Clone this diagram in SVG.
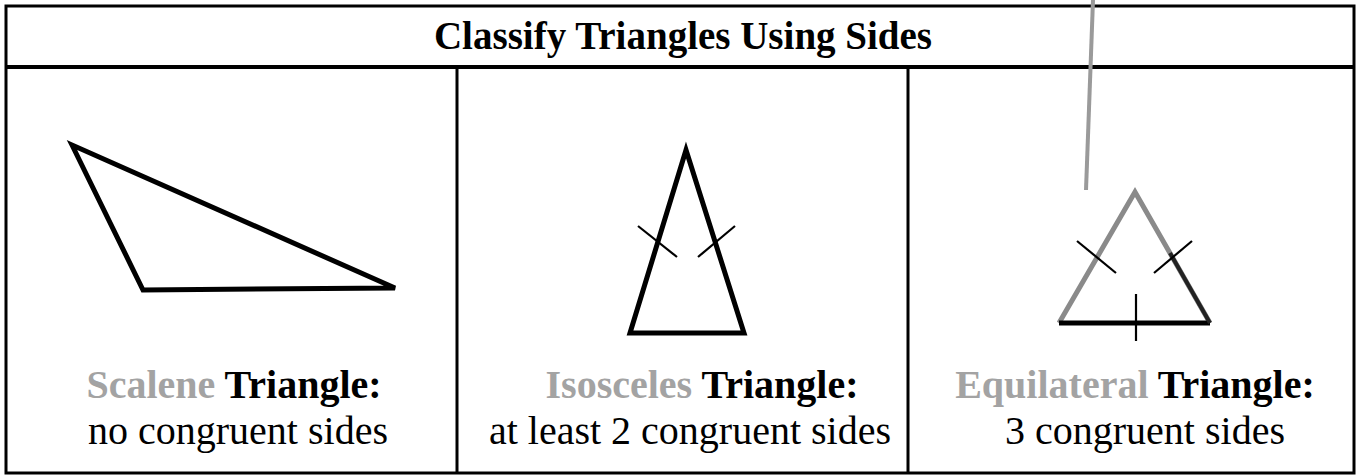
<svg xmlns="http://www.w3.org/2000/svg" width="1356" height="476" viewBox="0 0 1356 476">
<style>
.frame{fill:none;stroke:#000;stroke-width:3}
.tri{fill:none;stroke:#000;stroke-width:5;stroke-linejoin:miter}
.tick{stroke:#000;stroke-width:2.2;fill:none}
.t{font-family:"Liberation Serif","Times New Roman",serif;text-anchor:middle;fill:#000}
.b{font-weight:bold}
.g{fill:#a3a3a3}
</style>
<rect width="1356" height="476" fill="#fff"/>
<g id="table">
<rect class="frame" x="6" y="6" width="1348" height="467"/>
<line x1="6" y1="67" x2="1354" y2="67" stroke="#000" stroke-width="4"/>
<line class="frame" x1="457" y1="67" x2="457" y2="473"/>
<line class="frame" x1="908" y1="67" x2="908" y2="473"/>
</g>
<g id="title"><text class="t b" x="683" y="49" font-size="39" font-family="Liberation Serif, serif">Classify Triangles Using Sides</text></g>
<g id="connectors">
<line x1="1093" y1="0" x2="1086" y2="190" stroke="#9a9a9a" stroke-width="4"/>
</g>
<g id="scalene">
<polygon class="tri" points="72,145 143,290 395,288"/>
<text class="t b" x="234" y="398" font-size="40" font-family="Liberation Serif, serif"><tspan class="g">Scalene</tspan> Triangle:</text>
<text class="t" x="238" y="444" font-size="40" font-family="Liberation Serif, serif">no congruent sides</text>
</g>
<g id="isosceles">
<polygon class="tri" points="686,150 630,333 744,333"/>
<line class="tick" x1="638" y1="226" x2="677" y2="257"/>
<line class="tick" x1="735" y1="226" x2="698" y2="257"/>
<text class="t b" x="702" y="398" font-size="40" font-family="Liberation Serif, serif"><tspan class="g">Isosceles</tspan> Triangle:</text>
<text class="t" x="690" y="444" font-size="40" font-family="Liberation Serif, serif">at least 2 congruent sides</text>
</g>
<g id="equilateral">
<polyline fill="none" stroke="#8a8a8a" stroke-width="5" points="1059,323 1135,192 1210,323"/>
<line x1="1059" y1="323" x2="1210" y2="323" stroke="#000" stroke-width="5"/>
<line x1="1170" y1="253" x2="1210" y2="323" stroke="#222" stroke-width="4"/>
<line class="tick" x1="1077" y1="241" x2="1116" y2="273"/>
<line class="tick" x1="1192" y1="241" x2="1154" y2="273"/>
<line class="tick" x1="1136" y1="294" x2="1136" y2="341"/>
<text class="t b" x="1135" y="398" font-size="40" font-family="Liberation Serif, serif"><tspan class="g">Equilateral</tspan> Triangle:</text>
<text class="t" x="1145" y="444" font-size="40" font-family="Liberation Serif, serif">3 congruent sides</text>
</g>
</svg>
